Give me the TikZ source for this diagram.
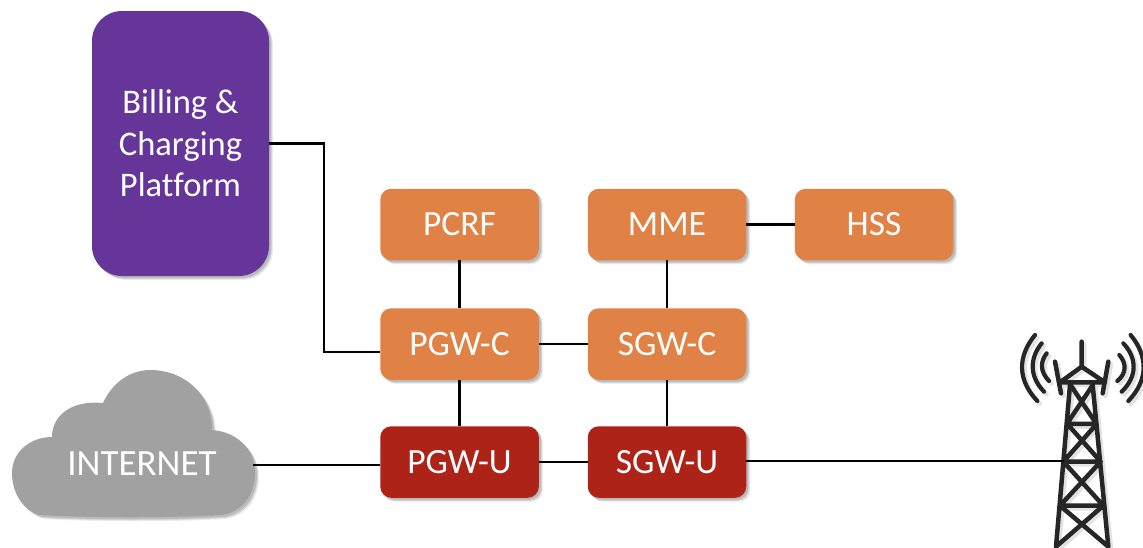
\documentclass[tikz,border=0pt]{standalone}
\usepackage{fontspec}
\setmainfont{Carlito}[Ligatures=NoCommon]
\usetikzlibrary{shadows}
\definecolor{orangebox}{HTML}{E08245}
\definecolor{redbox}{HTML}{AE2318}
\definecolor{purplebox}{HTML}{66359A}
\definecolor{cloudgray}{HTML}{A1A1A1}
\definecolor{towerdark}{HTML}{262626}
\tikzset{
  softshadow/.style={
    preaction={fill=black,opacity=.07,transform canvas={xshift=4pt,yshift=-4pt}},
    preaction={fill=black,opacity=.10,transform canvas={xshift=3pt,yshift=-3pt}},
    preaction={fill=black,opacity=.12,transform canvas={xshift=2pt,yshift=-2pt}}},
  box/.style={softshadow,rounded corners=11pt,minimum width=158.5pt,minimum height=71.5pt,
    inner sep=0pt,text=white,font=\fontsize{35.5}{40}\selectfont},
  ctrlbox/.style={box,fill=orangebox},
  userbox/.style={box,fill=redbox},
  link/.style={line width=2.6pt,black},
  towerline/.style={line width=4.5pt,line cap=round},
  wave/.style={line width=4.2pt,line cap=round}
}
\newcommand{\towerart}{%
  \draw[towerline] (270,195)--(228,680) (338,195)--(385,680)
    (240,187)--(375,187) (240,187)--(305,140)--(375,187) (305,65)--(305,140)
    (225,125)--(243,220) (385,125)--(368,220)
    (262,312)--(348,312) (250,425)--(362,425) (240,557)--(370,557)
    (275,200)--(348,310) (335,200)--(262,310)
    (262,312)--(362,425) (350,312)--(250,425)
    (250,425)--(370,557) (362,425)--(240,557)
    (240,557)--(385,680) (370,557)--(228,680);
  \draw[wave] (165,45) .. controls (112,110) and (112,180) .. (172,243)
    (185,70) .. controls (148,115) and (148,170) .. (192,215)
    (200,100) .. controls (180,125) and (180,155) .. (207,183)
    (452,45) .. controls (505,110) and (505,180) .. (445,243)
    (430,70) .. controls (472,115) and (472,170) .. (425,215)
    (418,105) .. controls (440,130) and (440,160) .. (412,183);
}
\begin{document}
\begin{tikzpicture}[x=1pt,y=-1pt]
\useasboundingbox (0,0) rectangle (1143,547);
% cloud
\path[softshadow,fill=cloudgray]
  (40,515) .. controls (22,510) and (12,492) .. (12,473)
  .. controls (12,452) and (30,437) .. (52,437)
  .. controls (52,415) and (72,400) .. (103,403)
  .. controls (112,383) and (130,370) .. (150,370)
  .. controls (185,370) and (212,395) .. (212,430)
  .. controls (238,432) and (255,450) .. (255,473)
  .. controls (255,495) and (242,512) .. (222,515)
  .. controls (170,518) and (90,518) .. (40,515) -- cycle;
\node[text=white,font=\fontsize{37}{42}\selectfont] (internet) at (142,464) {INTERNET};
\coordinate (cloudeast) at (253,465);
% boxes
\node[softshadow,fill=purplebox,rounded corners=30pt,minimum width=177pt,minimum height=265pt,
  inner sep=0pt,text=white,align=center,font=\fontsize{34.5}{41.5}\selectfont] (billing) at (180.5,143.5)
  {Billing \&\\Charging\\Platform};
\node[ctrlbox] (pcrf) at (459.5,224.5) {PCRF};
\node[ctrlbox] (mme) at (667,224.5) {MME};
\node[ctrlbox] (hss) at (874,224.5) {HSS};
\node[ctrlbox] (pgwc) at (459.5,344) {PGW-C};
\node[ctrlbox] (sgwc) at (667,344) {SGW-C};
\node[userbox] (pgwu) at (459.5,462) {PGW-U};
\node[userbox] (sgwu) at (667,462) {SGW-U};
% tower
\begin{scope}[shift={(980,320)},x=0.3333pt,y=-0.3333pt]
  \begin{scope}[shift={(8,8)},opacity=.22,gray,draw=gray]
    \towerart
  \end{scope}
  \begin{scope}[draw=towerdark]
    \towerart
  \end{scope}
\end{scope}
\coordinate (towerleg) at (1064,461);
% connectors
\draw[link] (billing.east) -| (324,352) -- ([yshift=-8pt]pgwc.west);
\draw[link] (pcrf) -- (pgwc);
\draw[link] (mme) -- (sgwc);
\draw[link] (mme) -- (hss);
\draw[link] (pgwc) -- (sgwc);
\draw[link] (pgwc) -- (pgwu);
\draw[link] (sgwc) -- (sgwu);
\draw[link] (pgwu) -- (sgwu);
\draw[link] (cloudeast) -- (cloudeast -| pgwu.west);
\draw[link] (sgwu.east |- towerleg) -- (towerleg);
\end{tikzpicture}
\end{document}
